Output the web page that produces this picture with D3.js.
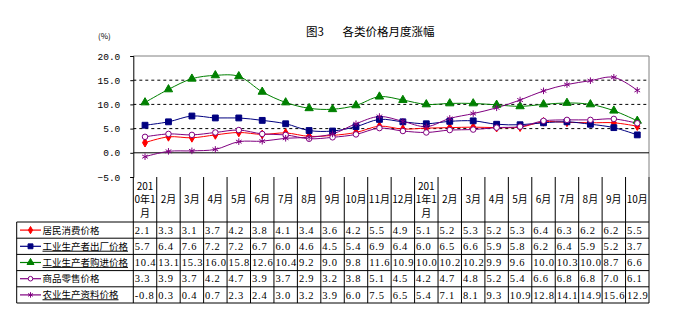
<!DOCTYPE html>
<html><head><meta charset="utf-8">
<script src="https://cdn.jsdelivr.net/npm/d3@7"></script>
<style>body{margin:0;background:#fff}svg{display:block}</style>
</head><body>
<script>
const months = ["2010年1月","2月","3月","4月","5月","6月","7月","8月","9月","10月","11月","12月","2011年1月","2月","3月","4月","5月","6月","7月","8月","9月","10月"];
const seriesNames = ["居民消费价格","工业生产者出厂价格","工业生产者购进价格","商品零售价格","农业生产资料价格"];
const cpi    = [2.1,3.3,3.1,3.7,4.2,3.8,4.1,3.4,3.6,4.2,5.5,4.9,5.1,5.2,5.3,5.2,5.3,6.4,6.3,6.2,6.2,5.5];
const ppiOut = [5.7,6.4,7.6,7.2,7.2,6.7,6.0,4.6,4.5,5.4,6.9,6.4,6.0,6.5,6.6,5.9,5.8,6.2,6.4,5.9,5.2,3.7];
const ppiIn  = [10.4,13.1,15.3,16.0,15.8,12.6,10.4,9.2,9.0,9.8,11.6,10.9,10.0,10.2,10.2,9.9,9.6,10.0,10.3,10.0,8.7,6.6];
const retail = [3.3,3.9,3.7,4.2,4.7,3.9,3.7,2.9,3.2,3.8,5.1,4.5,4.2,4.7,4.8,5.2,5.4,6.6,6.8,6.8,7.0,6.1];
const agri   = [-0.8,0.3,0.4,0.7,2.3,2.4,3.0,3.2,3.9,6.0,7.5,6.5,5.4,7.1,8.1,9.3,10.9,12.8,14.1,14.9,15.6,12.9];
const yTicks = [-5,0,5,10,15,20];
const titleNum = "图3";
const titleText = "各类价格月度涨幅";
const unitLabel = "(%)";

const seriesData = [cpi, ppiOut, ppiIn, retail, agri];
const colors = ["#FF0000","#000080","#008000","#800080","#800080"];
const symbols = [d3.symbolDiamond, d3.symbolSquare, d3.symbolTriangle, d3.symbolCircle, d3.symbolAsterisk];
const symSize = [22, 34, 30, 24, 30];
const symFill = [true, true, true, false, false];
const underline = [false, true, true, false, true];

const W = 679, H = 322;
const L = 133.3, R = 649, T = 56, B = 177;
const tableTop = 222, rowH = 16.2, tableLeft = 16.7;

const svg = d3.select("body").append("svg").attr("width", W).attr("height", H);

const x = d3.scaleBand().domain(d3.range(months.length)).range([L, R]);
const y = d3.scaleLinear().domain([-5, 20]).range([B, T]);

// title
svg.append("text").attr("x", 306).attr("y", 36)
  .attr("font-family", "Noto Sans CJK SC").attr("font-size", 11.5).attr("fill", "#000").text(titleNum);
svg.append("text").attr("x", 342.5).attr("y", 36)
  .attr("font-family", "Noto Sans CJK SC").attr("font-size", 11.5).attr("fill", "#000").text(titleText);
svg.append("text").attr("x", 98).attr("y", 39)
  .attr("font-family", "Noto Sans CJK SC").attr("font-size", 8).attr("fill", "#000").text(unitLabel);

// gridlines dashed at 5,10,15
svg.append("g").selectAll("line").data(yTicks.filter(v => v > 0 && v < 20)).join("line")
  .attr("x1", L).attr("x2", R).attr("y1", d => y(d)).attr("y2", d => y(d))
  .attr("stroke", "#000").attr("stroke-width", 1).attr("stroke-dasharray", "3,3");
// top & right border
svg.append("line").attr("x1", L).attr("x2", R).attr("y1", y(20)).attr("y2", y(20)).attr("stroke", "#808080");
svg.append("line").attr("x1", R).attr("x2", R).attr("y1", y(20)).attr("y2", B).attr("stroke", "#808080");
// zero line
svg.append("line").attr("x1", L).attr("x2", R).attr("y1", y(0)).attr("y2", y(0)).attr("stroke", "#000");

// y axis
const yAxis = svg.append("g").attr("transform", `translate(${L},0)`)
  .call(d3.axisLeft(y).tickValues(yTicks).tickSize(3).tickPadding(10).tickFormat(d3.format(".1f")));
yAxis.select(".domain").attr("stroke", "#000");
yAxis.selectAll("text").attr("font-family", "Liberation Mono").attr("font-size", 9.5).attr("fill", "#000");

// series lines and markers
const line = d3.line().x((d, i) => x(i) + x.bandwidth() / 2).y(d => y(d)).curve(d3.curveCatmullRom.alpha(0.5));
seriesData.forEach((vals, k) => {
  svg.append("path").datum(vals).attr("d", line).attr("fill", "none")
    .attr("stroke", colors[k]).attr("stroke-width", 1);
});
seriesData.forEach((vals, k) => {
  const sym = d3.symbol().type(symbols[k]).size(symSize[k]);
  svg.append("g").selectAll("path").data(vals).join("path")
    .attr("transform", (d, i) => `translate(${x(i) + x.bandwidth() / 2},${y(d)})`)
    .attr("d", sym)
    .attr("fill", symFill[k] ? colors[k] : "#fff")
    .attr("fill-opacity", symbols[k] === d3.symbolAsterisk ? 0 : 1)
    .attr("stroke", colors[k]).attr("stroke-width", 1);
});

// table
const tableBottom = tableTop + rowH * seriesNames.length;
const tg = svg.append("g");
const colEdges = d3.range(months.length + 1).map(i => i < months.length ? x(i) : R);
tg.selectAll("line.v").data(colEdges).join("line")
  .attr("x1", d => d).attr("x2", d => d).attr("y1", B).attr("y2", tableBottom)
  .attr("stroke", "#000");
tg.append("line").attr("x1", tableLeft).attr("x2", tableLeft).attr("y1", tableTop).attr("y2", tableBottom).attr("stroke", "#000");
tg.selectAll("line.h").data(d3.range(seriesNames.length + 1)).join("line")
  .attr("x1", tableLeft).attr("x2", R)
  .attr("y1", i => tableTop + i * rowH).attr("y2", i => tableTop + i * rowH)
  .attr("stroke", "#000");

// header labels (wrap 3 chars per line)
months.forEach((m, i) => {
  const parts = [];
  for (let j = 0; j < m.length; j += 3) parts.push(m.slice(j, j + 3));
  const lh = 13.5;
  const cy = (B + tableTop) / 2;
  const y0 = cy - (parts.length - 1) * lh / 2;
  const t = tg.append("text").attr("text-anchor", "middle")
    .attr("font-family", "Noto Sans CJK SC").attr("font-size", 10).attr("fill", "#000");
  parts.forEach((p, j) => {
    t.append("tspan").attr("x", x(i) + x.bandwidth() / 2).attr("y", y0 + j * lh).attr("dy", "0.35em").text(p);
  });
});

// rows
seriesNames.forEach((name, k) => {
  const cy = tableTop + k * rowH + rowH / 2;
  tg.append("line").attr("x1", 20).attr("x2", 41).attr("y1", cy).attr("y2", cy).attr("stroke", colors[k]).attr("stroke-width", 1.2);
  tg.append("path").attr("transform", `translate(30.5,${cy})`)
    .attr("d", d3.symbol().type(symbols[k]).size(symSize[k] * 0.7)())
    .attr("fill", symFill[k] ? colors[k] : "#fff")
    .attr("fill-opacity", symbols[k] === d3.symbolAsterisk ? 0 : 1)
    .attr("stroke", colors[k]).attr("stroke-width", 1);
  tg.append("text").attr("x", 42.5).attr("y", cy).attr("dy", "0.36em")
    .attr("font-family", "Noto Sans CJK SC").attr("font-size", 9.5).attr("fill", "#000")
    .style("text-decoration", underline[k] ? "underline" : "none").text(name);
  tg.selectAll(null).data(seriesData[k]).join("text")
    .attr("x", (d, i) => x(i) + 1.5).attr("y", cy).attr("dy", "0.36em")
    .attr("font-family", "Liberation Serif").attr("font-size", 10.5).attr("letter-spacing", 0.8)
    .attr("fill", "#000").text(d => d.toFixed(1));
});
</script>
</body></html>
